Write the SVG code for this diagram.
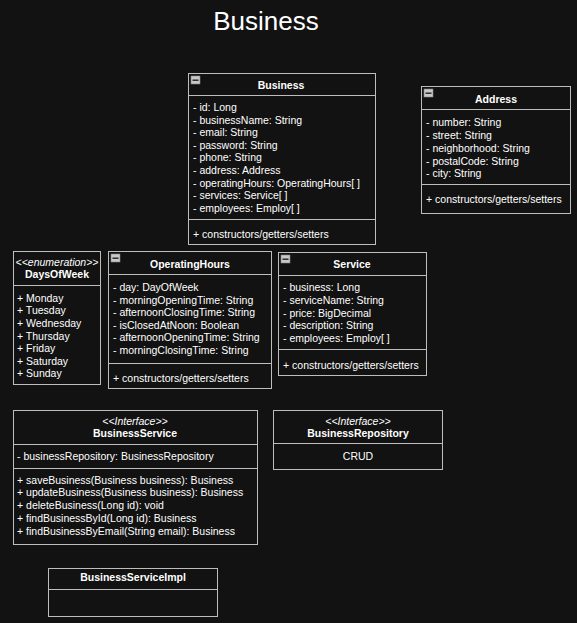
<svg xmlns="http://www.w3.org/2000/svg" width="577" height="623" viewBox="0 0 577 623">
<style>
.box{fill:#121212;stroke:#bdbdbd;stroke-width:1}
.ln{stroke:#bdbdbd;stroke-width:1}
text{font-family:"Liberation Sans",Arial,sans-serif;fill:#ffffff;font-size:10.5px}
.h{font-weight:bold;text-anchor:middle}
.c{text-anchor:middle}
.st{font-style:italic;text-anchor:middle;font-size:10.5px}
.title{font-size:26px;text-anchor:middle}
</style>
<defs>
<g id="icon"><rect x="0" y="0" width="9" height="8" fill="#c8c8c8" stroke="#888" stroke-width="0.6"/><rect x="1.5" y="3.5" width="6" height="1.4" fill="#222"/></g>
</defs>
<rect x="0" y="0" width="577" height="623" fill="#121212"/>
<text class="title" x="266" y="30">Business</text>
<g id="connectors"></g>
<g id="Business">
<rect class="box" x="188.5" y="73.5" width="187" height="171"/>
<use href="#icon" x="191" y="76"/>
<line class="ln" x1="188.5" y1="95.5" x2="375.5" y2="95.5"/>
<line class="ln" x1="188.5" y1="219.5" x2="375.5" y2="219.5"/>
<text class="h" x="281" y="89">Business</text>
<text x="193" y="111">- id: Long</text>
<text x="193" y="123.6">- businessName: String</text>
<text x="193" y="136.2">- email: String</text>
<text x="193" y="148.8">- password: String</text>
<text x="193" y="161.4">- phone: String</text>
<text x="193" y="174">- address: Address</text>
<text x="193" y="186.6">- operatingHours: OperatingHours[ ]</text>
<text x="193" y="199.2">- services: Service[ ]</text>
<text x="193" y="211.8">- employees: Employ[ ]</text>
<text x="193" y="238">+ constructors/getters/setters</text>
</g>
<g id="Address">
<rect class="box" x="421.5" y="86.5" width="149" height="127"/>
<use href="#icon" x="424" y="89"/>
<line class="ln" x1="421.5" y1="109.5" x2="570.5" y2="109.5"/>
<line class="ln" x1="421.5" y1="184.5" x2="570.5" y2="184.5"/>
<text class="h" x="496" y="103">Address</text>
<text x="426" y="126.3">- number: String</text>
<text x="426" y="139">- street: String</text>
<text x="426" y="151.8">- neighborhood: String</text>
<text x="426" y="164.5">- postalCode: String</text>
<text x="426" y="177.3">- city: String</text>
<text x="426" y="203.3">+ constructors/getters/setters</text>
</g>
<g id="DaysOfWeek">
<rect class="box" x="13.5" y="251.5" width="87" height="133"/>
<line class="ln" x1="13.5" y1="285.5" x2="100.5" y2="285.5"/>
<text class="st" x="57" y="266">&lt;&lt;enumeration&gt;&gt;</text>
<text class="h" x="57" y="278.3">DaysOfWeek</text>
<text x="17" y="301.7">+ Monday</text>
<text x="17" y="314.3">+ Tuesday</text>
<text x="17" y="326.9">+ Wednesday</text>
<text x="17" y="339.5">+ Thursday</text>
<text x="17" y="352.1">+ Friday</text>
<text x="17" y="364.7">+ Saturday</text>
<text x="17" y="377.3">+ Sunday</text>
</g>
<g id="OperatingHours">
<rect class="box" x="108.5" y="251.5" width="163" height="137"/>
<use href="#icon" x="111" y="254"/>
<line class="ln" x1="108.5" y1="274.5" x2="271.5" y2="274.5"/>
<line class="ln" x1="108.5" y1="363.5" x2="271.5" y2="363.5"/>
<text class="h" x="190" y="268.3">OperatingHours</text>
<text x="113" y="291.3">- day: DayOfWeek</text>
<text x="113" y="303.8">- morningOpeningTime: String</text>
<text x="113" y="316.3">- afternoonClosingTime: String</text>
<text x="113" y="328.8">- isClosedAtNoon: Boolean</text>
<text x="113" y="341.3">- afternoonOpeningTime: String</text>
<text x="113" y="353.8">- morningClosingTime: String</text>
<text x="113" y="381.7">+ constructors/getters/setters</text>
</g>
<g id="Service">
<rect class="box" x="278.5" y="252.5" width="148" height="123"/>
<use href="#icon" x="281" y="255"/>
<line class="ln" x1="278.5" y1="275.5" x2="426.5" y2="275.5"/>
<line class="ln" x1="278.5" y1="349.5" x2="426.5" y2="349.5"/>
<text class="h" x="352" y="268.3">Service</text>
<text x="283" y="291.3">- business: Long</text>
<text x="283" y="303.9">- serviceName: String</text>
<text x="283" y="316.5">- price: BigDecimal</text>
<text x="283" y="329.1">- description: String</text>
<text x="283" y="341.7">- employees: Employ[ ]</text>
<text x="283" y="369">+ constructors/getters/setters</text>
</g>
<g id="BusinessService">
<rect class="box" x="13.5" y="410.5" width="244" height="134"/>
<line class="ln" x1="13.5" y1="444.5" x2="257.5" y2="444.5"/>
<line class="ln" x1="13.5" y1="468.5" x2="257.5" y2="468.5"/>
<text class="st" x="135" y="425.3">&lt;&lt;Interface&gt;&gt;</text>
<text class="h" x="135" y="437">BusinessService</text>
<text x="17" y="460.3">- businessRepository: BusinessRepository</text>
<text x="17" y="483.7">+ saveBusiness(Business business): Business</text>
<text x="17" y="496.4">+ updateBusiness(Business business): Business</text>
<text x="17" y="509.2">+ deleteBusiness(Long id): void</text>
<text x="17" y="521.9">+ findBusinessById(Long id): Business</text>
<text x="17" y="534.7">+ findBusinessByEmail(String email): Business</text>
</g>
<g id="BusinessRepository">
<rect class="box" x="273.5" y="410.5" width="169" height="59"/>
<line class="ln" x1="273.5" y1="443.5" x2="442.5" y2="443.5"/>
<text class="st" x="358" y="425.3">&lt;&lt;Interface&gt;&gt;</text>
<text class="h" x="358" y="437">BusinessRepository</text>
<text class="c" x="358" y="459.7">CRUD</text>
</g>
<g id="BusinessServiceImpl">
<rect class="box" x="48.5" y="568.5" width="169" height="48"/>
<line class="ln" x1="48.5" y1="589.5" x2="217.5" y2="589.5"/>
<text class="h" x="133" y="581.3">BusinessServiceImpl</text>
</g>
</svg>
